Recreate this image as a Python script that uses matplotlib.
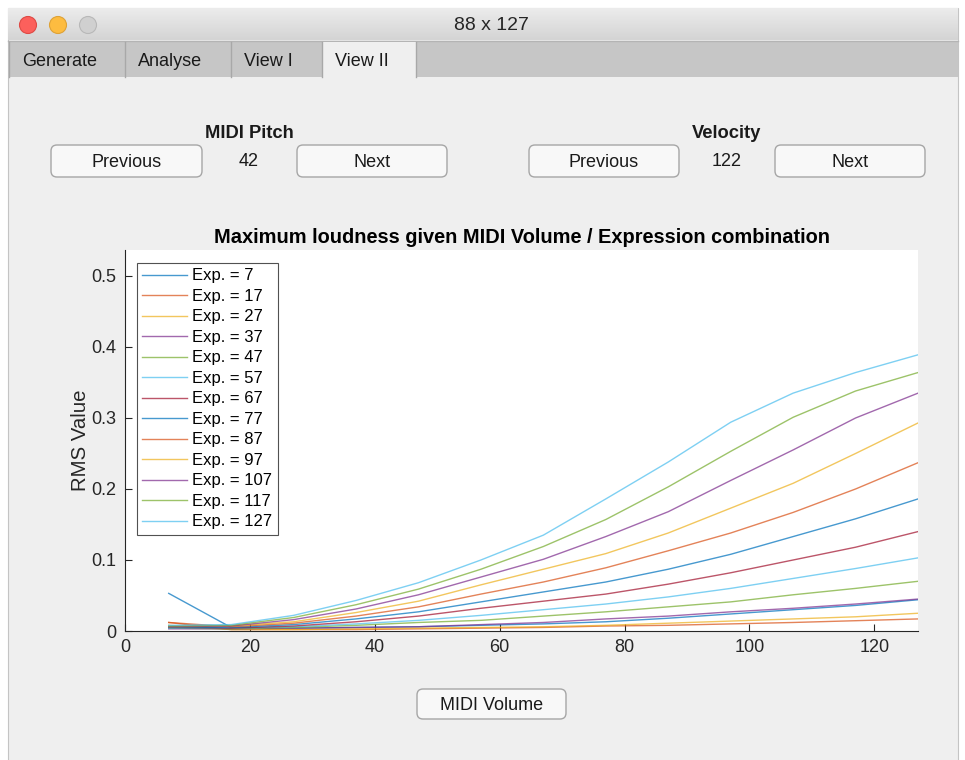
import numpy as np
import matplotlib.pyplot as plt
from matplotlib.patches import Rectangle, FancyBboxPatch, Circle

plt.rcParams['font.family'] = ['Liberation Sans', 'DejaVu Sans']

# MIDI volume steps and measured RMS per expression value
volume = [7, 17, 27, 37, 47, 57, 67, 77, 87, 97, 107, 117, 127]
expressions = [7, 17, 27, 37, 47, 57, 67, 77, 87, 97, 107, 117, 127]

rms_exp7 = [0.053, 0.005, 0.004, 0.005, 0.006, 0.008, 0.010, 0.013, 0.018, 0.024, 0.030, 0.036, 0.044]
rms_exp17 = [0.012, 0.002, 0.002, 0.002, 0.003, 0.004, 0.005, 0.007, 0.008, 0.010, 0.012, 0.0145, 0.017]
rms_exp27 = [0.008, 0.002, 0.002, 0.003, 0.004, 0.005, 0.006, 0.008, 0.011, 0.014, 0.017, 0.020, 0.025]
rms_exp37 = [0.003, 0.003, 0.004, 0.005, 0.006, 0.009, 0.012, 0.017, 0.021, 0.027, 0.032, 0.038, 0.045]
rms_exp47 = [0.004, 0.003, 0.005, 0.008, 0.012, 0.015, 0.021, 0.027, 0.034, 0.041, 0.051, 0.060, 0.070]
rms_exp57 = [0.004, 0.004, 0.006, 0.010, 0.015, 0.022, 0.030, 0.038, 0.048, 0.060, 0.074, 0.088, 0.103]
rms_exp67 = [0.005, 0.004, 0.007, 0.013, 0.021, 0.032, 0.042, 0.052, 0.066, 0.082, 0.100, 0.118, 0.140]
rms_exp77 = [0.005, 0.005, 0.009, 0.017, 0.027, 0.041, 0.055, 0.069, 0.087, 0.108, 0.133, 0.158, 0.186]
rms_exp87 = [0.012, 0.006, 0.011, 0.021, 0.034, 0.052, 0.069, 0.089, 0.113, 0.138, 0.167, 0.200, 0.237]
rms_exp97 = [0.006, 0.007, 0.013, 0.026, 0.042, 0.065, 0.087, 0.109, 0.138, 0.173, 0.208, 0.250, 0.293]
rms_exp107 = [0.006, 0.007, 0.016, 0.031, 0.051, 0.076, 0.101, 0.133, 0.168, 0.212, 0.255, 0.300, 0.335]
rms_exp117 = [0.007, 0.008, 0.019, 0.037, 0.059, 0.087, 0.119, 0.157, 0.203, 0.253, 0.301, 0.338, 0.364]
rms_exp127 = [0.008, 0.009, 0.022, 0.043, 0.068, 0.100, 0.135, 0.186, 0.238, 0.294, 0.335, 0.364, 0.389]

rms = [rms_exp7, rms_exp17, rms_exp27, rms_exp37, rms_exp47, rms_exp57, rms_exp67,
       rms_exp77, rms_exp87, rms_exp97, rms_exp107, rms_exp117, rms_exp127]

# matlab default line order
colors = ['#0072bd', '#d95319', '#edb120', '#7e2f8e', '#77ac30', '#4dbeee', '#a2142f']

tabs = ['Generate', 'Analyse', 'View I', 'View II']
pitch = 42
velocity = 122

W, H = 965, 760
fig = plt.figure(figsize=(W / 100, H / 100), dpi=100)
fig.patch.set_facecolor('white')

# background axes in pixel coords for the window chrome
bg = fig.add_axes([0, 0, 1, 1])
bg.set_xlim(0, W)
bg.set_ylim(H, 0)
bg.axis('off')

# window body
bg.add_patch(Rectangle((8, 8), 950, 760, facecolor='#efefef', edgecolor='#c4c4c4', lw=0.8))

# title bar gradient
grad = np.linspace(0, 1, 64).reshape(-1, 1)
bg.imshow(grad, extent=(8, 958, 40, 8), cmap=plt.matplotlib.colors.LinearSegmentedColormap.from_list(
    'tb', ['#ececec', '#d4d4d4']), aspect='auto', zorder=1)
bg.plot([8, 958], [40.5, 40.5], color='#b4b4b4', lw=1, zorder=2)
for cx, fc, ec in [(28, '#fc605c', '#de4a45'), (58, '#fdbc40', '#dea236'), (88, '#d0d0d0', '#b8b8b8')]:
    bg.add_patch(Circle((cx, 25), 8.5, facecolor=fc, edgecolor=ec, lw=0.8, zorder=3))
bg.text(491, 25.5, '88 x 127', ha='center', va='center', fontsize=14, color='#262626', zorder=3)

# tab strip
bg.add_patch(Rectangle((9, 41), 949, 36, facecolor='#c6c6c6', edgecolor='none', zorder=1))
tab_edges = [9, 125, 231, 322, 416]
for i, name in enumerate(tabs):
    x0, x1 = tab_edges[i], tab_edges[i + 1]
    if name == 'View II':
        bg.add_patch(Rectangle((x0, 42), x1 - x0, 36, facecolor='#efefef', edgecolor='none', zorder=2))
        bg.plot([x1, x1], [42, 77], color='#a8a8a8', lw=1, zorder=3)
    bg.plot([x0, x0], [42, 77], color='#a8a8a8', lw=1, zorder=3)
    bg.text(x0 + 13, 61, name, ha='left', va='center', fontsize=13, color='#1a1a1a', zorder=4)


def button(x0, y0, x1, y1, label):
    bg.add_patch(FancyBboxPatch((x0, y0), x1 - x0, y1 - y0, boxstyle='round,pad=0,rounding_size=6',
                                facecolor='#f8f8f8', edgecolor='#a6a6a6', lw=1.0, zorder=2))
    bg.text((x0 + x1) / 2, (y0 + y1) / 2 + 1.5, label, ha='center', va='center', fontsize=13,
            color='#1a1a1a', zorder=3)


bg.text(249, 133, 'MIDI Pitch', ha='center', va='center', fontsize=13.2, fontweight='bold', color='#1a1a1a')
button(51, 145, 202, 177, 'Previous')
bg.text(249, 162, str(pitch), ha='center', va='center', fontsize=13, color='#1a1a1a')
button(297, 145, 447, 177, 'Next')

bg.text(727, 133, 'Velocity', ha='center', va='center', fontsize=13.2, fontweight='bold', color='#1a1a1a')
button(529, 145, 679, 177, 'Previous')
bg.text(727, 162, str(velocity), ha='center', va='center', fontsize=13, color='#1a1a1a')
button(775, 145, 925, 177, 'Next')

button(417, 689, 566, 719, 'MIDI Volume')

# plot area
ax_l, ax_r, ax_t, ax_b = 125, 918, 250, 631
ax = fig.add_axes([ax_l / W, 1 - ax_b / H, (ax_r - ax_l) / W, (ax_b - ax_t) / H])
for i, (e, y) in enumerate(zip(expressions, rms)):
    ax.plot(volume, y, color=colors[i % 7], lw=1.0, alpha=0.72, label='Exp. = %d' % e)

ax.set_xlim(0, 127)
ax.set_ylim(0, 0.5366)
ax.set_xticks([0, 20, 40, 60, 80, 100, 120])
ax.set_yticks([0, 0.1, 0.2, 0.3, 0.4, 0.5])
ax.set_yticklabels(['0', '0.1', '0.2', '0.3', '0.4', '0.5'])
ax.tick_params(direction='in', length=5, width=0.8, colors='#262626', labelsize=13, pad=6)
for s in ['top', 'right']:
    ax.spines[s].set_visible(False)
for s in ['left', 'bottom']:
    ax.spines[s].set_color('#262626')
    ax.spines[s].set_linewidth(0.8)
ax.set_ylabel('RMS Value', fontsize=14.7, color='#262626', labelpad=1)
ax.set_title('Maximum loudness given MIDI Volume / Expression combination',
             fontsize=14.4, fontweight='bold', color='#000000', pad=5)

leg = ax.legend(loc='upper left', bbox_to_anchor=(12 / 793, (631 - 263) / 381), borderaxespad=0,
                fontsize=12, frameon=True, fancybox=False, handlelength=2.65, handletextpad=0.36,
                labelspacing=0.33, borderpad=0.32)
leg.get_frame().set_edgecolor('#262626')
leg.get_frame().set_linewidth(0.8)

fig.savefig('out.png', dpi=100)
